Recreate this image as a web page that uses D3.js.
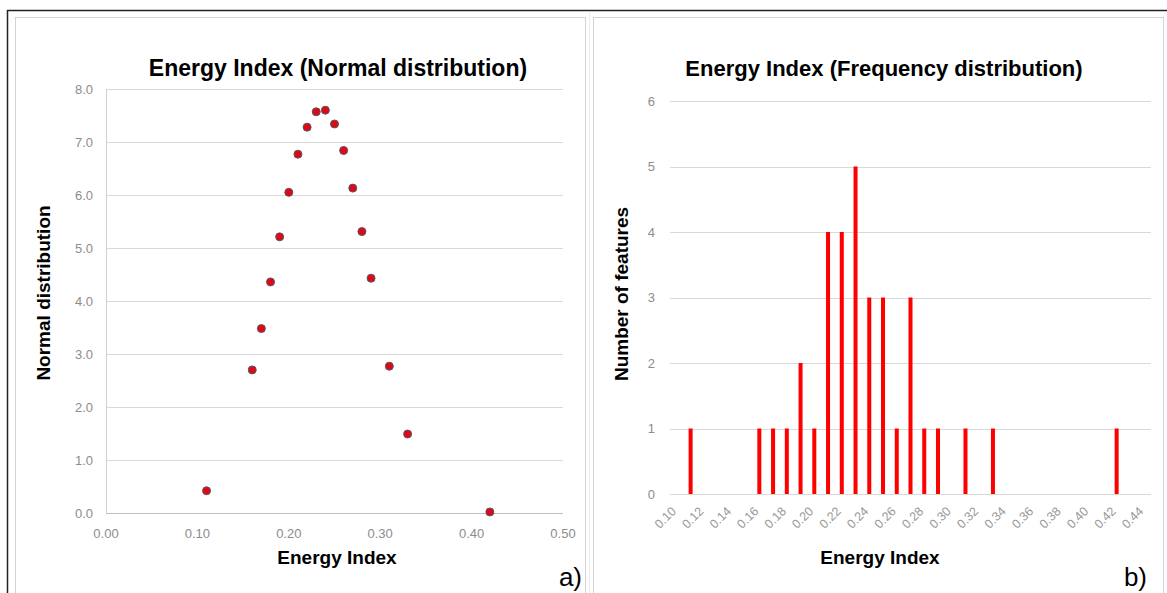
<!DOCTYPE html>
<html>
<head>
<meta charset="utf-8">
<script src="https://cdn.jsdelivr.net/npm/d3@7"></script>
<style>
body{margin:0;background:#fff;}
text{font-family:"Liberation Sans",Arial,sans-serif;}
</style>
</head>
<body>
<div class="main"></div>
<script>
// a) normal distribution points
var normX=[0.11,0.16,0.17,0.18,0.19,0.20,0.21,0.22,0.23,0.24,0.25,0.26,0.27,0.28,0.29,0.31,0.33,0.42];
var normY=[0.42,2.70,3.48,4.36,5.21,6.05,6.77,7.28,7.57,7.60,7.34,6.84,6.13,5.31,4.43,2.77,1.49,0.02];
var normXTicks=[0,0.1,0.2,0.3,0.4,0.5];
var normYTicks=[0,1,2,3,4,5,6,7,8];

// b) frequency distribution
var freqCats=["0.10","0.11","0.12","0.13","0.14","0.15","0.16","0.17","0.18","0.19","0.20","0.21","0.22","0.23","0.24","0.25","0.26","0.27","0.28","0.29","0.30","0.31","0.32","0.33","0.34","0.35","0.36","0.37","0.38","0.39","0.40","0.41","0.42","0.43","0.44"];
var freqCounts=[0,1,0,0,0,0,1,1,1,2,1,4,4,5,3,3,1,3,1,1,0,1,0,1,0,0,0,0,0,0,0,0,1,0,0];
var freqXLabels=["0.10","0.12","0.14","0.16","0.18","0.20","0.22","0.24","0.26","0.28","0.30","0.32","0.34","0.36","0.38","0.40","0.42","0.44"];
var freqYTicks=[0,1,2,3,4,5,6];

var W=1167,H=593;
var svg=d3.select('.main').append('svg')
    .attr('width',W)
    .attr('height',H);

// frames
svg.append('rect').attr('x',15.5).attr('y',17.5).attr('width',570).attr('height',590)
    .attr('fill','none').attr('stroke','#d4d4d4');
svg.append('rect').attr('x',593.5).attr('y',17.5).attr('width',570).attr('height',590)
    .attr('fill','none').attr('stroke','#d4d4d4');
svg.append('line').attr('x1',589.5).attr('x2',589.5).attr('y1',12).attr('y2',H)
    .attr('stroke','#ececec');
svg.append('line').attr('x1',7).attr('x2',W).attr('y1',10.5).attr('y2',10.5)
    .attr('stroke','#222').attr('stroke-width',1.5);
svg.append('line').attr('x1',7.5).attr('x2',7.5).attr('y1',10).attr('y2',H)
    .attr('stroke','#222').attr('stroke-width',1.5);

var grid='#d9d9d9', tickCol='#8c8c8c';

//LEFT CHART
var x=d3.scaleLinear().domain([0,0.5]).range([106,563]);
var y=d3.scaleLinear().domain([0,8]).range([513,89]);

svg.append('g').selectAll('line')
    .data(normYTicks)
    .enter().append('line')
    .attr('x1',x(0)).attr('x2',x(0.5))
    .attr('y1',function(d){return Math.round(y(d))+0.5;})
    .attr('y2',function(d){return Math.round(y(d))+0.5;})
    .attr('stroke',function(d){return d==0?'#bfbfbf':grid;});
svg.append('line')
    .attr('x1',Math.round(x(0))+0.5).attr('x2',Math.round(x(0))+0.5)
    .attr('y1',y(8)).attr('y2',y(0))
    .attr('stroke','#d0d0d0');

svg.append('g').selectAll('text')
    .data(normYTicks)
    .enter().append('text')
    .attr('x',93).attr('y',function(d){return y(d);})
    .attr('dy','0.35em')
    .attr('text-anchor','end')
    .attr('font-size',13).attr('fill',tickCol)
    .text(d3.format('.1f'));
svg.append('g').selectAll('text')
    .data(normXTicks)
    .enter().append('text')
    .attr('x',function(d){return x(d);}).attr('y',538)
    .attr('text-anchor','middle')
    .attr('font-size',13).attr('fill',tickCol)
    .text(d3.format('.2f'));

svg.append('g').selectAll('circle')
    .data(normX)
    .enter().append('circle')
    .attr('cx',function(d){return x(d);})
    .attr('cy',function(d,i){return y(normY[i]);})
    .attr('r',4)
    .attr('fill','#e30613')
    .attr('stroke','#4f5b6b')
    .attr('stroke-width',1);

svg.append('text').attr('x',338).attr('y',76)
    .attr('text-anchor','middle').attr('font-size',23).attr('font-weight','bold')
    .text('Energy Index (Normal distribution)');
svg.append('text').attr('x',337).attr('y',564)
    .attr('text-anchor','middle').attr('font-size',19).attr('font-weight','bold')
    .text('Energy Index');
svg.append('text')
    .attr('transform','translate(50,293) rotate(-90)')
    .attr('text-anchor','middle').attr('font-size',19).attr('font-weight','bold')
    .text('Normal distribution');
svg.append('text').attr('x',582).attr('y',586)
    .attr('text-anchor','end').attr('font-size',26)
    .text('a)');

//RIGHT CHART
var xb=d3.scaleBand().domain(freqCats).range([670,1151]);
var yb=d3.scaleLinear().domain([0,6]).range([494,101]);

svg.append('g').selectAll('line')
    .data(freqYTicks)
    .enter().append('line')
    .attr('x1',670).attr('x2',1151)
    .attr('y1',function(d){return Math.round(yb(d))+0.5;})
    .attr('y2',function(d){return Math.round(yb(d))+0.5;})
    .attr('stroke',grid);

svg.append('g').selectAll('text')
    .data(freqYTicks)
    .enter().append('text')
    .attr('x',655).attr('y',function(d){return yb(d);})
    .attr('dy','0.35em')
    .attr('text-anchor','end')
    .attr('font-size',13).attr('fill',tickCol)
    .text(function(d){return d;});

var bw=4;
svg.append('g').selectAll('rect')
    .data(freqCats)
    .enter().append('rect')
    .attr('x',function(d){return xb(d)+xb.bandwidth()/2-bw/2;})
    .attr('y',function(d,i){return yb(freqCounts[i]);})
    .attr('width',bw)
    .attr('height',function(d,i){return yb(0)-yb(freqCounts[i]);})
    .attr('fill','#ff0000');

svg.append('g').selectAll('text')
    .data(freqXLabels)
    .enter().append('text')
    .attr('transform',function(d){
        return 'translate('+(xb(d)+xb.bandwidth()/2)+',512) rotate(-45)';})
    .attr('text-anchor','end')
    .attr('font-size',12.5).attr('fill','#999')
    .text(function(d){return d;});

svg.append('text').attr('x',884).attr('y',76)
    .attr('text-anchor','middle').attr('font-size',22).attr('font-weight','bold')
    .text('Energy Index (Frequency distribution)');
svg.append('text').attr('x',880).attr('y',564)
    .attr('text-anchor','middle').attr('font-size',19).attr('font-weight','bold')
    .text('Energy Index');
svg.append('text')
    .attr('transform','translate(628,294) rotate(-90)')
    .attr('text-anchor','middle').attr('font-size',19).attr('font-weight','bold')
    .text('Number of features');
svg.append('text').attr('x',1147).attr('y',586)
    .attr('text-anchor','end').attr('font-size',26)
    .text('b)');
</script>
</body>
</html>
